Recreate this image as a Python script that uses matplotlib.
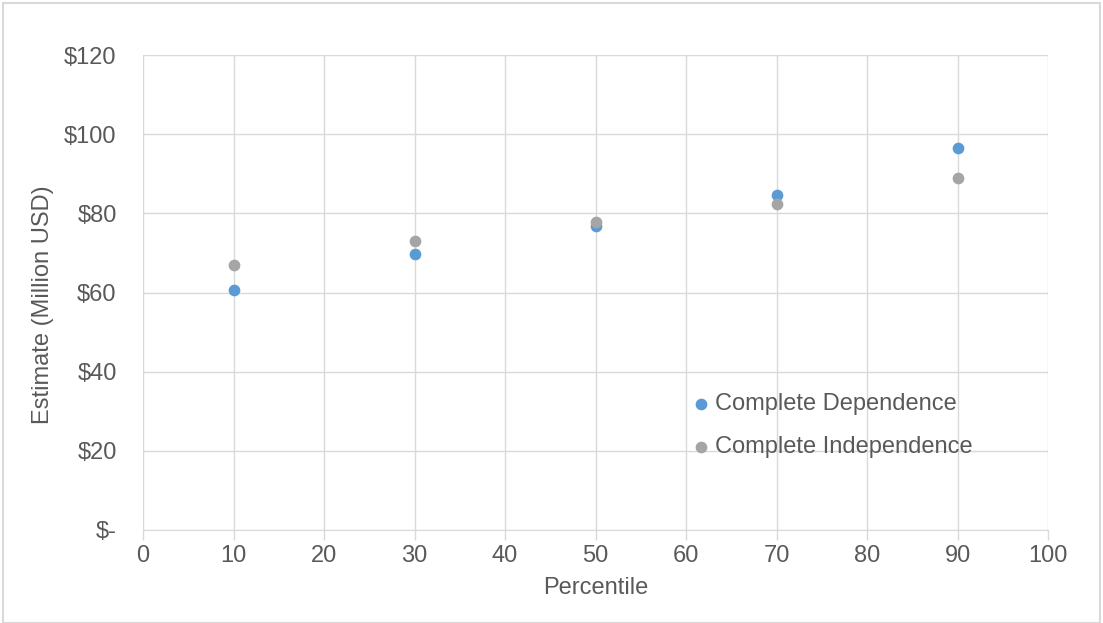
import matplotlib
matplotlib.use("Agg")
import matplotlib.pyplot as plt
from matplotlib.ticker import FuncFormatter, MultipleLocator
from matplotlib.patches import Rectangle

# data
percentile = [10, 30, 50, 70, 90]
dependence = [60.7, 69.8, 76.9, 84.6, 96.6]
independence = [67.0, 73.1, 77.9, 82.3, 88.9]
labels = ['Complete Dependence', 'Complete Independence']

txt = '#595959'
grid = '#d9d9d9'
fs = 17
plt.rcParams['font.family'] = ['Liberation Sans', 'DejaVu Sans']

fig = plt.figure(figsize=(11.03, 6.23), dpi=100)
ax = fig.add_axes([143/1103, 1-530/623, (1048-143)/1103, (530-55)/623])

ax.scatter(percentile, dependence, s=55, color='#5b9bd5', label=labels[0], zorder=3)
ax.scatter(percentile, independence, s=55, color='#a5a5a5', label=labels[1], zorder=3)

ax.set_xlim(0, 100)
ax.set_ylim(0, 120)
ax.xaxis.set_major_locator(MultipleLocator(10))
ax.yaxis.set_major_locator(MultipleLocator(20))
ax.yaxis.set_major_formatter(FuncFormatter(lambda v, p: '$-' if v == 0 else '$%d' % v))
ax.grid(True, color=grid, lw=1)
ax.set_axisbelow(True)
for s in ['top', 'right', 'left']:
    ax.spines[s].set_visible(False)
ax.spines['bottom'].set_color(grid)
ax.tick_params(axis='x', colors=grid, length=7, width=1, labelcolor=txt, labelsize=fs, pad=4)
ax.tick_params(axis='y', length=0, labelcolor=txt, labelsize=fs, pad=19)

ax.set_xlabel('Percentile', color=txt, fontsize=fs, labelpad=7)
ax.set_ylabel('Estimate (Million USD)', color=txt, fontsize=fs, labelpad=7)
ax.yaxis.label.set_y(0.474)

ax.legend(loc='center left', bbox_to_anchor=(0.606, 0.22), frameon=False, fontsize=fs,
          labelcolor=txt, borderpad=0, borderaxespad=0, handlelength=0.8,
          handletextpad=0.2, labelspacing=0.87, markerscale=1.0)

fig.patches.append(Rectangle((3/1103, 0), 1097/1103, 1-3/623, transform=fig.transFigure,
                             fill=False, edgecolor=grid, lw=1.5))

fig.savefig('out.png', dpi=100)
